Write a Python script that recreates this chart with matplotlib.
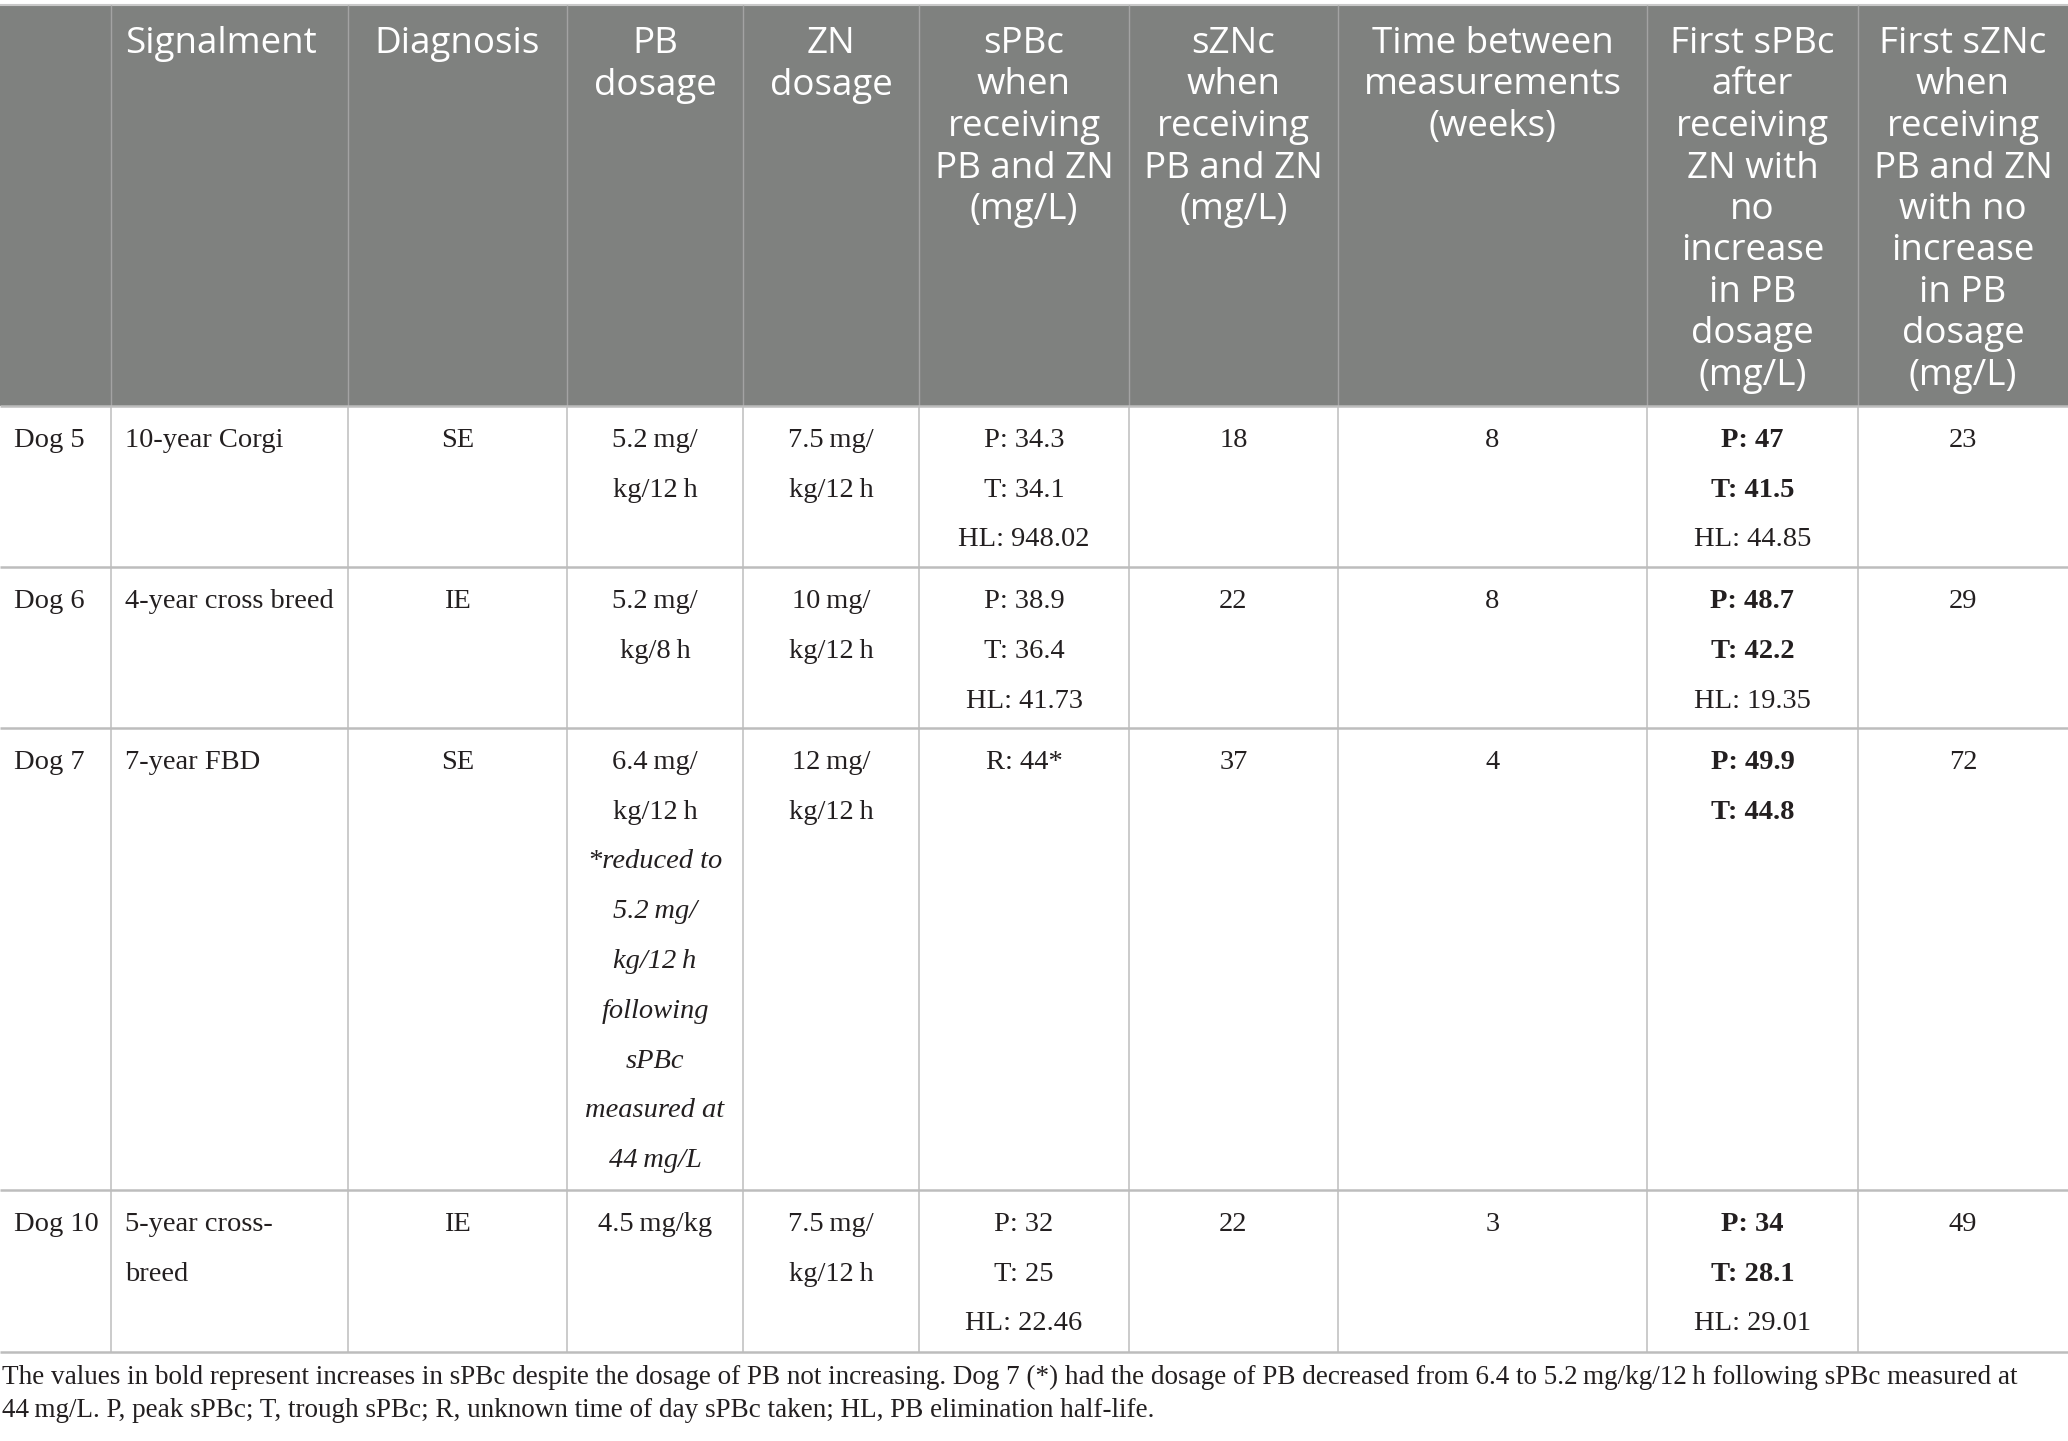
import matplotlib
matplotlib.use("Agg")
import matplotlib.pyplot as plt
from matplotlib.patches import Rectangle

# table content
dogs = ["Dog 5", "Dog 6", "Dog 7", "Dog 10"]
signalment = [["10-year Corgi"], ["4-year cross breed"], ["7-year FBD"], ["5-year cross-", "breed"]]
diagnosis = ["SE", "IE", "SE", "IE"]
pb_dosage = [["5.2\u2009mg/", "kg/12\u2009h"], ["5.2\u2009mg/", "kg/8\u2009h"],
             ["6.4\u2009mg/", "kg/12\u2009h"], ["4.5\u2009mg/kg"]]
pb_note = [[], [], ["*reduced to", "5.2\u2009mg/", "kg/12\u2009h", "following", "sPBc",
                    "measured at", "44\u2009mg/L"], []]
zn_dosage = [["7.5\u2009mg/", "kg/12\u2009h"], ["10\u2009mg/", "kg/12\u2009h"],
             ["12\u2009mg/", "kg/12\u2009h"], ["7.5\u2009mg/", "kg/12\u2009h"]]
spbc = [["P: 34.3", "T: 34.1", "HL: 948.02"], ["P: 38.9", "T: 36.4", "HL: 41.73"],
        ["R: 44*"], ["P: 32", "T: 25", "HL: 22.46"]]
szn = ["18", "22", "37", "22"]
weeks = ["8", "8", "4", "3"]
first_spbc_bold = [["P: 47", "T: 41.5"], ["P: 48.7", "T: 42.2"], ["P: 49.9", "T: 44.8"], ["P: 34", "T: 28.1"]]
first_spbc_hl = [["HL: 44.85"], ["HL: 19.35"], [], ["HL: 29.01"]]
first_szn = ["23", "29", "72", "49"]

headers = ["", "Signalment", "Diagnosis", "PB\ndosage", "ZN\ndosage",
           "sPBc\nwhen\nreceiving\nPB and ZN\n(mg/L)",
           "sZNc\nwhen\nreceiving\nPB and ZN\n(mg/L)",
           "Time between\nmeasurements\n(weeks)",
           "First sPBc\nafter\nreceiving\nZN with\nno\nincrease\nin PB\ndosage\n(mg/L)",
           "First sZNc\nwhen\nreceiving\nPB and ZN\nwith no\nincrease\nin PB\ndosage\n(mg/L)"]

footnote = ["The values in bold represent increases in sPBc despite the dosage of PB not increasing. "
            "Dog 7 (*) had the dosage of PB decreased from 6.4 to 5.2\u2009mg/kg/12\u2009h following sPBc measured at",
            "44\u2009mg/L. P, peak sPBc; T, trough sPBc; R, unknown time of day sPBc taken; HL, PB elimination half-life."]

# layout (pixels)
W, H = 2068, 1441
col_edges = [0, 111, 348, 567, 743, 919, 1129, 1338, 1647, 1858, 2068]
row_edges = [406, 567, 728, 1190, 1352]
head_top = 5
head_base, head_step = 53, 41.5
body_pad, body_step = 41, 49.75
note_base, note_step = 1384, 33
head_col = "#7f817f"
grid_col = "#bdbdbd"
ink = "#231f20"
serif = ["Liberation Serif", "DejaVu Serif"]
sans = ["Open Sans", "DejaVu Sans"]
fs_body = 20.5
fs_note = 19.5
fs_head = 26.5

fig = plt.figure(figsize=(W / 100, H / 100), dpi=100)
ax = fig.add_axes([0, 0, 1, 1])
ax.set_xlim(0, W)
ax.set_ylim(H, 0)
ax.axis("off")

# header
ax.add_patch(Rectangle((0, head_top), W, row_edges[0] - head_top, facecolor=head_col, edgecolor="none"))
ax.hlines(head_top, 0, W, color="#c8c8c8", lw=1.5)
ax.vlines(col_edges[1:-1], head_top, row_edges[0], color="#a3a3a3", lw=1.0)
for c, txt in enumerate(headers):
    if not txt:
        continue
    for i, line in enumerate(txt.split("\n")):
        if c == 1:
            x, ha = col_edges[c] + 14, "left"
        else:
            x, ha = (col_edges[c] + col_edges[c + 1]) / 2, "center"
        ax.text(x, head_base + i * head_step, line, ha=ha, va="baseline", color="white",
                fontsize=fs_head, family=sans)

# grid of body
ax.vlines(col_edges[1:-1], row_edges[0], row_edges[-1], color=grid_col, lw=1.1)
ax.hlines(row_edges, 0, W, color=grid_col, lw=1.8)


def put(col, row, lines, start=0, ha="center", weight="normal", style="normal"):
    top = row_edges[row]
    if ha == "left":
        x = col_edges[col] + 14
    else:
        x = (col_edges[col] + col_edges[col + 1]) / 2
    for i, line in enumerate(lines):
        ax.text(x, top + body_pad + (start + i) * body_step, line, ha=ha, va="baseline",
                color=ink, fontsize=fs_body, family=serif, fontweight=weight, fontstyle=style)


for r in range(len(dogs)):
    put(0, r, [dogs[r]], ha="left")
    put(1, r, signalment[r], ha="left")
    put(2, r, [diagnosis[r]])
    put(3, r, pb_dosage[r])
    put(3, r, pb_note[r], start=len(pb_dosage[r]), style="italic")
    put(4, r, zn_dosage[r])
    put(5, r, spbc[r])
    put(6, r, [szn[r]])
    put(7, r, [weeks[r]])
    put(8, r, first_spbc_bold[r], weight="bold")
    put(8, r, first_spbc_hl[r], start=len(first_spbc_bold[r]))
    put(9, r, [first_szn[r]])

for i, line in enumerate(footnote):
    ax.text(2, note_base + i * note_step, line, ha="left", va="baseline", color=ink,
            fontsize=fs_note, family=serif)

fig.savefig("out.png", dpi=100)
